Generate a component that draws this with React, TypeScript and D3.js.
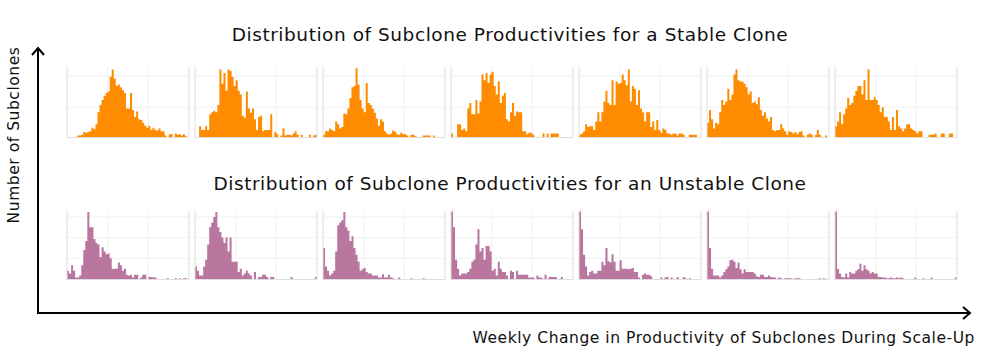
import { useEffect, useRef } from 'react'
import * as d3 from 'd3'

// 60 bins per panel, heights in % of panel max
const stable1 = [0,0,0,0,0,2,2,3,7,6,7,8,13,11,18,35,45,52,58,62,64,85,95,82,72,74,70,66,62,40,40,62,38,28,36,25,24,20,16,13,16,10,13,10,9,12,8,8,2,0,4,4,0,5,3,4,2,4,1,0]
const stable2 = [0,0,15,10,10,15,10,32,35,37,35,45,95,75,90,65,95,93,85,72,80,65,60,30,27,64,40,34,40,25,10,28,30,8,10,10,10,32,0,7,4,0,2,12,2,3,3,2,5,8,3,0,3,0,0,0,3,0,2,3]
const stable3 = [3,8,8,12,10,8,22,18,12,14,33,32,40,55,70,72,97,74,52,40,35,76,48,45,40,34,26,16,25,22,8,5,3,5,9,7,4,3,6,4,4,2,0,3,3,1,0,0,0,2,2,2,2,0,2,0,0,0,0,0]
const stable4 = [5,0,0,18,18,10,12,8,40,48,32,32,52,33,50,88,80,90,76,88,92,72,60,78,48,58,62,25,22,35,48,30,36,35,35,8,8,4,6,6,3,0,0,0,0,5,0,5,0,5,5,5,5,0,0,0,0,0,0,0]
const stable5 = [3,5,8,18,14,15,15,10,22,35,22,35,50,65,48,45,80,45,78,75,76,88,80,73,95,50,72,68,45,66,40,35,22,35,35,14,22,10,24,10,6,12,10,5,5,3,5,5,2,5,5,3,0,0,3,3,3,3,0,0]
const stable6 = [20,38,25,12,20,18,35,52,45,50,68,52,60,88,95,80,78,78,75,70,60,64,48,50,46,56,38,30,35,26,22,28,10,8,10,10,18,12,8,3,8,7,5,7,4,7,8,2,0,3,5,3,0,3,10,3,0,0,2,0]
const stable7 = [15,22,35,18,32,40,55,45,48,58,65,72,72,60,80,52,95,52,52,56,52,45,35,42,28,28,22,10,28,10,38,15,12,8,12,18,18,12,10,8,5,8,8,0,0,0,3,3,3,5,0,0,5,5,0,0,5,5,0,0]

const unstable1 = [12,8,20,12,2,2,5,20,42,55,97,75,75,58,52,50,32,46,40,36,37,30,15,15,15,24,20,12,15,6,5,6,2,6,6,0,2,6,6,0,3,3,2,2,0,0,0,0,0,1,0,0,0,1,0,1,0,1,1,0]
const unstable2 = [18,12,5,5,18,28,50,75,82,90,97,75,68,60,52,60,40,60,25,25,25,10,15,5,8,12,8,5,0,10,0,3,3,6,6,3,0,3,3,0,0,0,0,0,0,0,0,3,0,0,0,0,0,0,0,0,0,0,0,3]
const unstable3 = [45,18,12,5,8,12,40,78,82,85,97,75,70,55,62,45,35,25,12,14,16,10,8,8,5,5,5,2,2,7,2,2,6,2,1,0,0,2,0,0,0,0,0,1,0,0,0,0,0,1,0,0,0,0,0,0,0,0,0,0]
const unstable4 = [98,75,28,15,5,8,8,8,10,15,25,28,50,72,40,45,28,48,48,40,12,15,5,25,15,10,10,5,0,12,10,0,12,6,6,6,6,6,2,2,2,0,5,2,2,0,6,0,3,3,3,3,0,0,3,0,0,0,0,0]
const unstable5 = [98,72,35,18,5,10,12,8,8,12,12,25,20,45,26,24,36,25,12,12,27,15,15,15,14,15,16,10,10,2,0,6,8,6,6,4,0,0,0,0,2,0,2,3,0,2,0,0,3,0,0,3,1,0,1,0,0,0,0,0]
const unstable6 = [98,45,15,5,5,5,2,5,10,14,18,27,28,25,16,24,14,8,14,10,10,10,10,8,4,3,6,6,3,3,5,3,2,2,0,2,1,0,1,1,1,1,0,1,1,1,0,0,0,0,0,0,0,0,0,1,0,1,0,0]
const unstable7 = [98,15,8,3,2,8,2,10,8,8,12,14,22,12,20,14,12,8,10,8,8,3,3,2,2,1,1,2,1,1,2,1,2,1,0,0,0,0,0,2,0,0,0,1,0,0,0,2,0,0,0,0,0,0,0,0,0,0,0,2]

const stableSeries = [stable1, stable2, stable3, stable4, stable5, stable6, stable7]
const unstableSeries = [unstable1, unstable2, unstable3, unstable4, unstable5, unstable6, unstable7]

const titleStable = 'Distribution of Subclone Productivities for a Stable Clone'
const titleUnstable = 'Distribution of Subclone Productivities for an Unstable Clone'
const xLabel = 'Weekly Change in Productivity of Subclones During Scale-Up'
const yLabel = 'Number of Subclones'

const WIDTH = 991
const HEIGHT = 351
const FONT = '"DejaVu Sans", Verdana, sans-serif'

export default function App() {
  const svgRef = useRef<SVGSVGElement>(null)

  useEffect(() => {
    if (!svgRef.current) return
    const svg = d3.select(svgRef.current)
    svg.selectAll('*').remove()

    const xPanel = d3
      .scaleBand<number>()
      .domain(d3.range(7))
      .range([67, 957])
      .paddingInner(6 / 128)

    const rows = [
      { data: stableSeries, top: 66, bottom: 137, color: '#ff8c00', grid: [42, 86] },
      { data: unstableSeries, top: 210, bottom: 279, color: '#b9769f', grid: [30, 60, 90] },
    ]

    rows.forEach((row) => {
      row.data.forEach((values, i) => {
        const x0 = xPanel(i) || 0
        const bw = xPanel.bandwidth()
        const g = svg.append('g').attr('transform', `translate(${x0},0)`)

        const x = d3.scaleLinear().domain([0, values.length]).range([0, bw])
        const y = d3.scaleLinear().domain([0, 100]).range([row.bottom, row.top])

        // light grid
        g.selectAll('.vgrid')
          .data([values.length / 3, (values.length * 2) / 3])
          .enter()
          .append('line')
          .attr('x1', (d) => x(d))
          .attr('x2', (d) => x(d))
          .attr('y1', row.top)
          .attr('y2', row.bottom)
          .attr('stroke', '#f0f0f0')
          .attr('stroke-width', 1)

        g.selectAll('.hgrid')
          .data(row.grid)
          .enter()
          .append('line')
          .attr('x1', 0)
          .attr('x2', bw)
          .attr('y1', (d) => y(d))
          .attr('y2', (d) => y(d))
          .attr('stroke', '#f0f0f0')
          .attr('stroke-width', 1)

        // histogram as one step shape so bins join without seams
        const pts: [number, number][] = values.map((v, j) => [j, v])
        pts.push([values.length, values[values.length - 1]])
        const area = d3
          .area<[number, number]>()
          .x((d) => x(d[0]))
          .y0(row.bottom)
          .y1((d) => y(d[1]))
          .curve(d3.curveStepAfter)

        g.append('path')
          .datum(pts)
          .attr('fill', row.color)
          .attr('d', area)

        // panel frame
        g.append('line')
          .attr('x1', 0).attr('x2', 0)
          .attr('y1', row.top).attr('y2', row.bottom + 1)
          .attr('stroke', '#dedede')
        g.append('line')
          .attr('x1', bw).attr('x2', bw)
          .attr('y1', row.top).attr('y2', row.bottom + 1)
          .attr('stroke', '#dedede')
        g.append('line')
          .attr('x1', 0).attr('x2', bw)
          .attr('y1', row.bottom + 0.5).attr('y2', row.bottom + 0.5)
          .attr('stroke', '#dedede')
      })
    })

    const addText = (t: string, size: number) =>
      svg.append('text')
        .attr('font-family', FONT)
        .attr('font-size', `${size}px`)
        .attr('letter-spacing', '0.55px')
        .attr('fill', '#111')
        .text(t)

    // titles
    addText(titleStable, 18.5).attr('x', 510).attr('y', 41).attr('text-anchor', 'middle')
    addText(titleUnstable, 18.5).attr('x', 510).attr('y', 190).attr('text-anchor', 'middle')

    // arrows
    const axisG = svg.append('g').attr('stroke', '#000').attr('stroke-width', 2).attr('fill', 'none')
    axisG.append('path').attr('d', 'M38,48 L38,313 L970,313')
    axisG.append('path').attr('d', 'M32,55 L38,48 L44,55')
    axisG.append('path').attr('d', 'M963,307 L970,313 L963,319')

    addText(xLabel, 15.5).attr('x', 975).attr('y', 343).attr('text-anchor', 'end')
    addText(yLabel, 15.5)
      .attr('transform', 'translate(19,135) rotate(-90)')
      .attr('text-anchor', 'middle')
  }, [])

  return (
    <svg
      ref={svgRef}
      width={WIDTH}
      height={HEIGHT}
      style={{ position: 'absolute', left: 0, top: 0, background: '#fff' }}
    />
  )
}
